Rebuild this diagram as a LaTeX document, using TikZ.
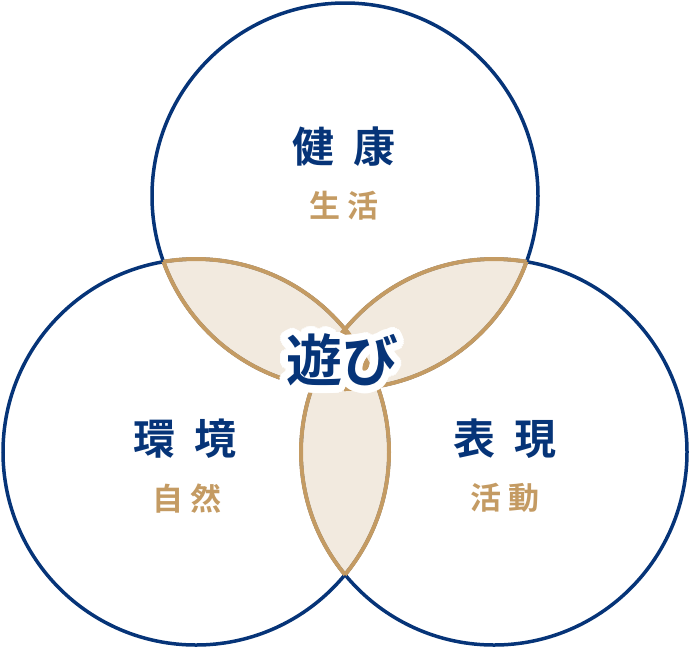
\documentclass[tikz,border=0pt]{standalone}
\usepackage{fontspec}
\newfontfamily\jpfont[BoldFont={Noto Sans CJK JP Bold}]{Noto Sans CJK JP}
\definecolor{navy}{HTML}{063478}
\definecolor{gold}{HTML}{C49B63}
\definecolor{cream}{HTML}{F2EADF}
\def\rad{193pt}

\begin{document}
\begin{tikzpicture}[x=1pt,y=-1pt,
  ring/.style={draw=navy,line width=3.5pt},
  rim/.style={draw=gold,line width=4pt},
  title/.style={font=\jpfont\bfseries\fontsize{42}{42}\selectfont,text=navy,inner sep=0pt},
  sub/.style={font=\jpfont\bfseries\fontsize{31}{31}\selectfont,text=gold,inner sep=0pt},
  play/.style={font=\jpfont\bfseries\fontsize{56}{56}\selectfont,inner sep=0pt}]
\useasboundingbox (0,0) rectangle (690,649);
\coordinate (top) at (345,196);
\coordinate (lft) at (196,452);
\coordinate (rgt) at (494,452);
% overlaps
\foreach \p/\q in {top/lft,top/rgt,lft/rgt}
  {\begin{scope} \clip (\p) circle[radius=\rad]; \fill[cream] (\q) circle[radius=\rad]; \end{scope}}
\begin{scope}
  \clip (top) circle[radius=\rad]; \clip (lft) circle[radius=\rad];
  \fill[gold] (rgt) circle[radius=\rad];
\end{scope}
% circles
\foreach \c in {top,lft,rgt} \draw[ring] (\c) circle[radius=\rad];
\foreach \p/\q in {top/lft,lft/top,top/rgt,rgt/top,lft/rgt,rgt/lft}
  {\begin{scope} \clip (\p) circle[radius=\rad]; \draw[rim] (\q) circle[radius=\rad]; \end{scope}}
% labels
\node[title] (kenko) at (344,147) {健\hspace{0.45em}康};
\node[sub] (seikatsu) at (344,206) {生\hspace{0.25em}活};
\node[title] (kankyo) at (185,439) {環\hspace{0.45em}境};
\node[sub] (shizen) at (187,499) {自\hspace{0.25em}然};
\node[title] (hyogen) at (505,439) {表\hspace{0.45em}現};
\node[sub] (katsudo) at (505,498) {活\hspace{0.25em}動};
\foreach \a in {0,15,...,345}
  \node[play,text=white] (halo\a) at ([shift={(\a:7.5)}]342,360) {遊び};
\node[play,text=navy] (asobi) at (342,360) {遊び};
\end{tikzpicture}
\end{document}
